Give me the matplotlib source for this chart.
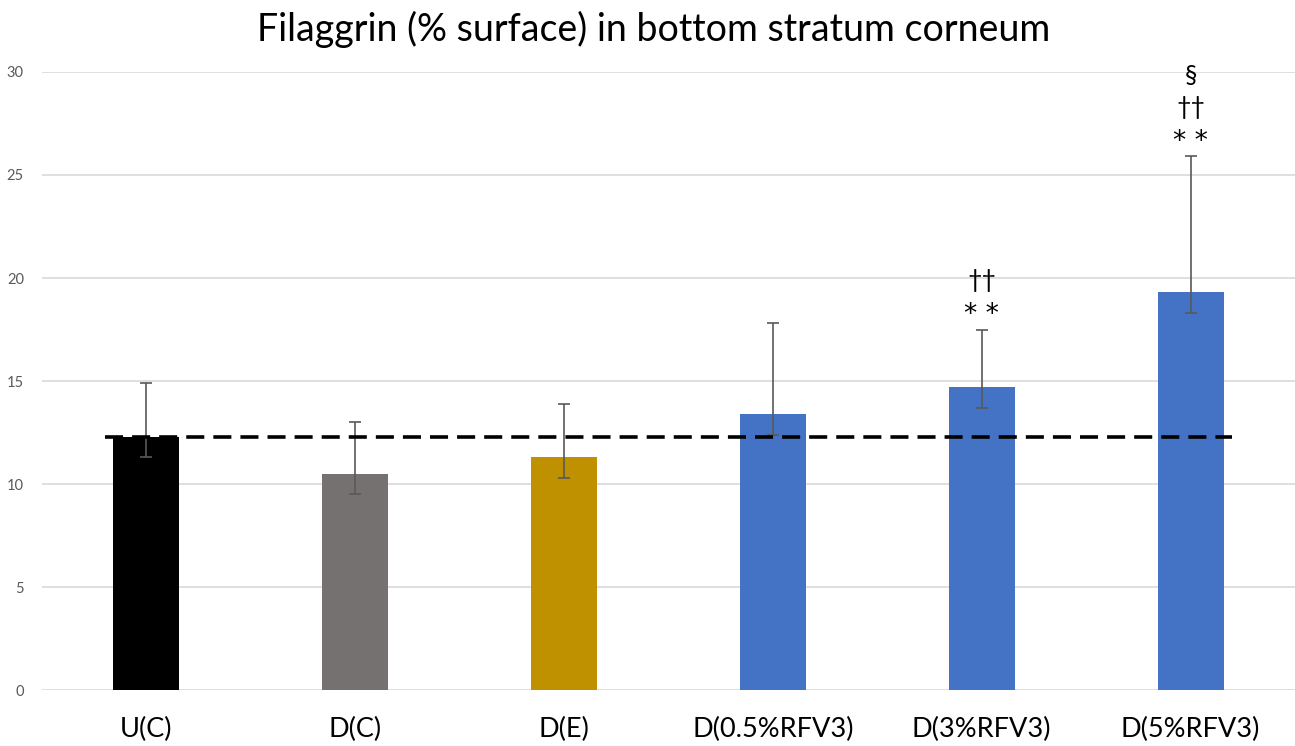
import matplotlib
matplotlib.use("Agg")
import matplotlib.pyplot as plt
import numpy as np

categories = ["U(C)", "D(C)", "D(E)", "D(0.5%RFV3)", "D(3%RFV3)", "D(5%RFV3)"]
values = [12.3, 10.5, 11.3, 13.4, 14.7, 19.3]
err_upper = [2.6, 2.5, 2.6, 4.4, 2.8, 6.6]
err_lower = [1.0, 1.0, 1.0, 1.0, 1.0, 1.0]
colors = ["#000000", "#767171", "#BF9000", "#4472C4", "#4472C4", "#4472C4"]
annotations = ["", "", "", "", "* *\n††", "* *\n††\n§"]
reference_level = 12.3
yticks = [0, 5, 10, 15, 20, 25, 30]

plt.rcParams['font.family'] = ['Lato', 'DejaVu Sans']

fig = plt.figure(figsize=(12.95, 7.46), dpi=100)
ax = fig.add_axes([0.0324, 0.075, 0.9676, 0.8285])

x = np.arange(len(categories))
ax.bar(x, values, width=0.316, color=colors, zorder=2)
ax.errorbar(x, values, yerr=[err_lower, err_upper], fmt='none',
            ecolor='#595959', elinewidth=1.2, capsize=4, capthick=1.2, zorder=3)
ax.hlines(reference_level, -0.2, 5.2, colors='black', linestyles=(0, (5, 2.5)),
          linewidth=2.6, zorder=4)

# annotations (stacked symbols above error bars)
line_offsets = [0.71, 2.38, 3.95]
for i, ann in enumerate(annotations):
    if not ann:
        continue
    lines = ann.split("\n")
    top = values[i] + err_upper[i]
    for k, s in enumerate(lines):
        is_star = s.startswith("*")
        ax.text(x[i], top + line_offsets[k], s,
                ha='center', va='center',
                fontsize=19 if is_star else 18, color='black',
                family=['DejaVu Sans'] if is_star else ['Lato', 'DejaVu Sans'],
                clip_on=False, zorder=5)

ax.set_xlim(-0.5, len(categories) - 0.5)
ax.set_ylim(0, 30)
ax.set_yticks(yticks)
ax.set_yticklabels([str(t) for t in yticks], fontsize=10.5, color='#595959')
ax.set_xticks(x)
ax.set_xticklabels(categories, fontsize=19.5)
ax.tick_params(axis='both', length=0)
ax.tick_params(axis='x', pad=19)
ax.tick_params(axis='y', pad=13)
ax.yaxis.grid(True, color='#D9D9D9', linewidth=1.2, zorder=0)
ax.set_axisbelow(True)
for sp in ax.spines.values():
    sp.set_visible(False)

fig.text(0.505, 0.960, "Filaggrin (% surface) in bottom stratum corneum",
         ha='center', va='center', fontsize=27)

fig.savefig("out.png", dpi=100)
